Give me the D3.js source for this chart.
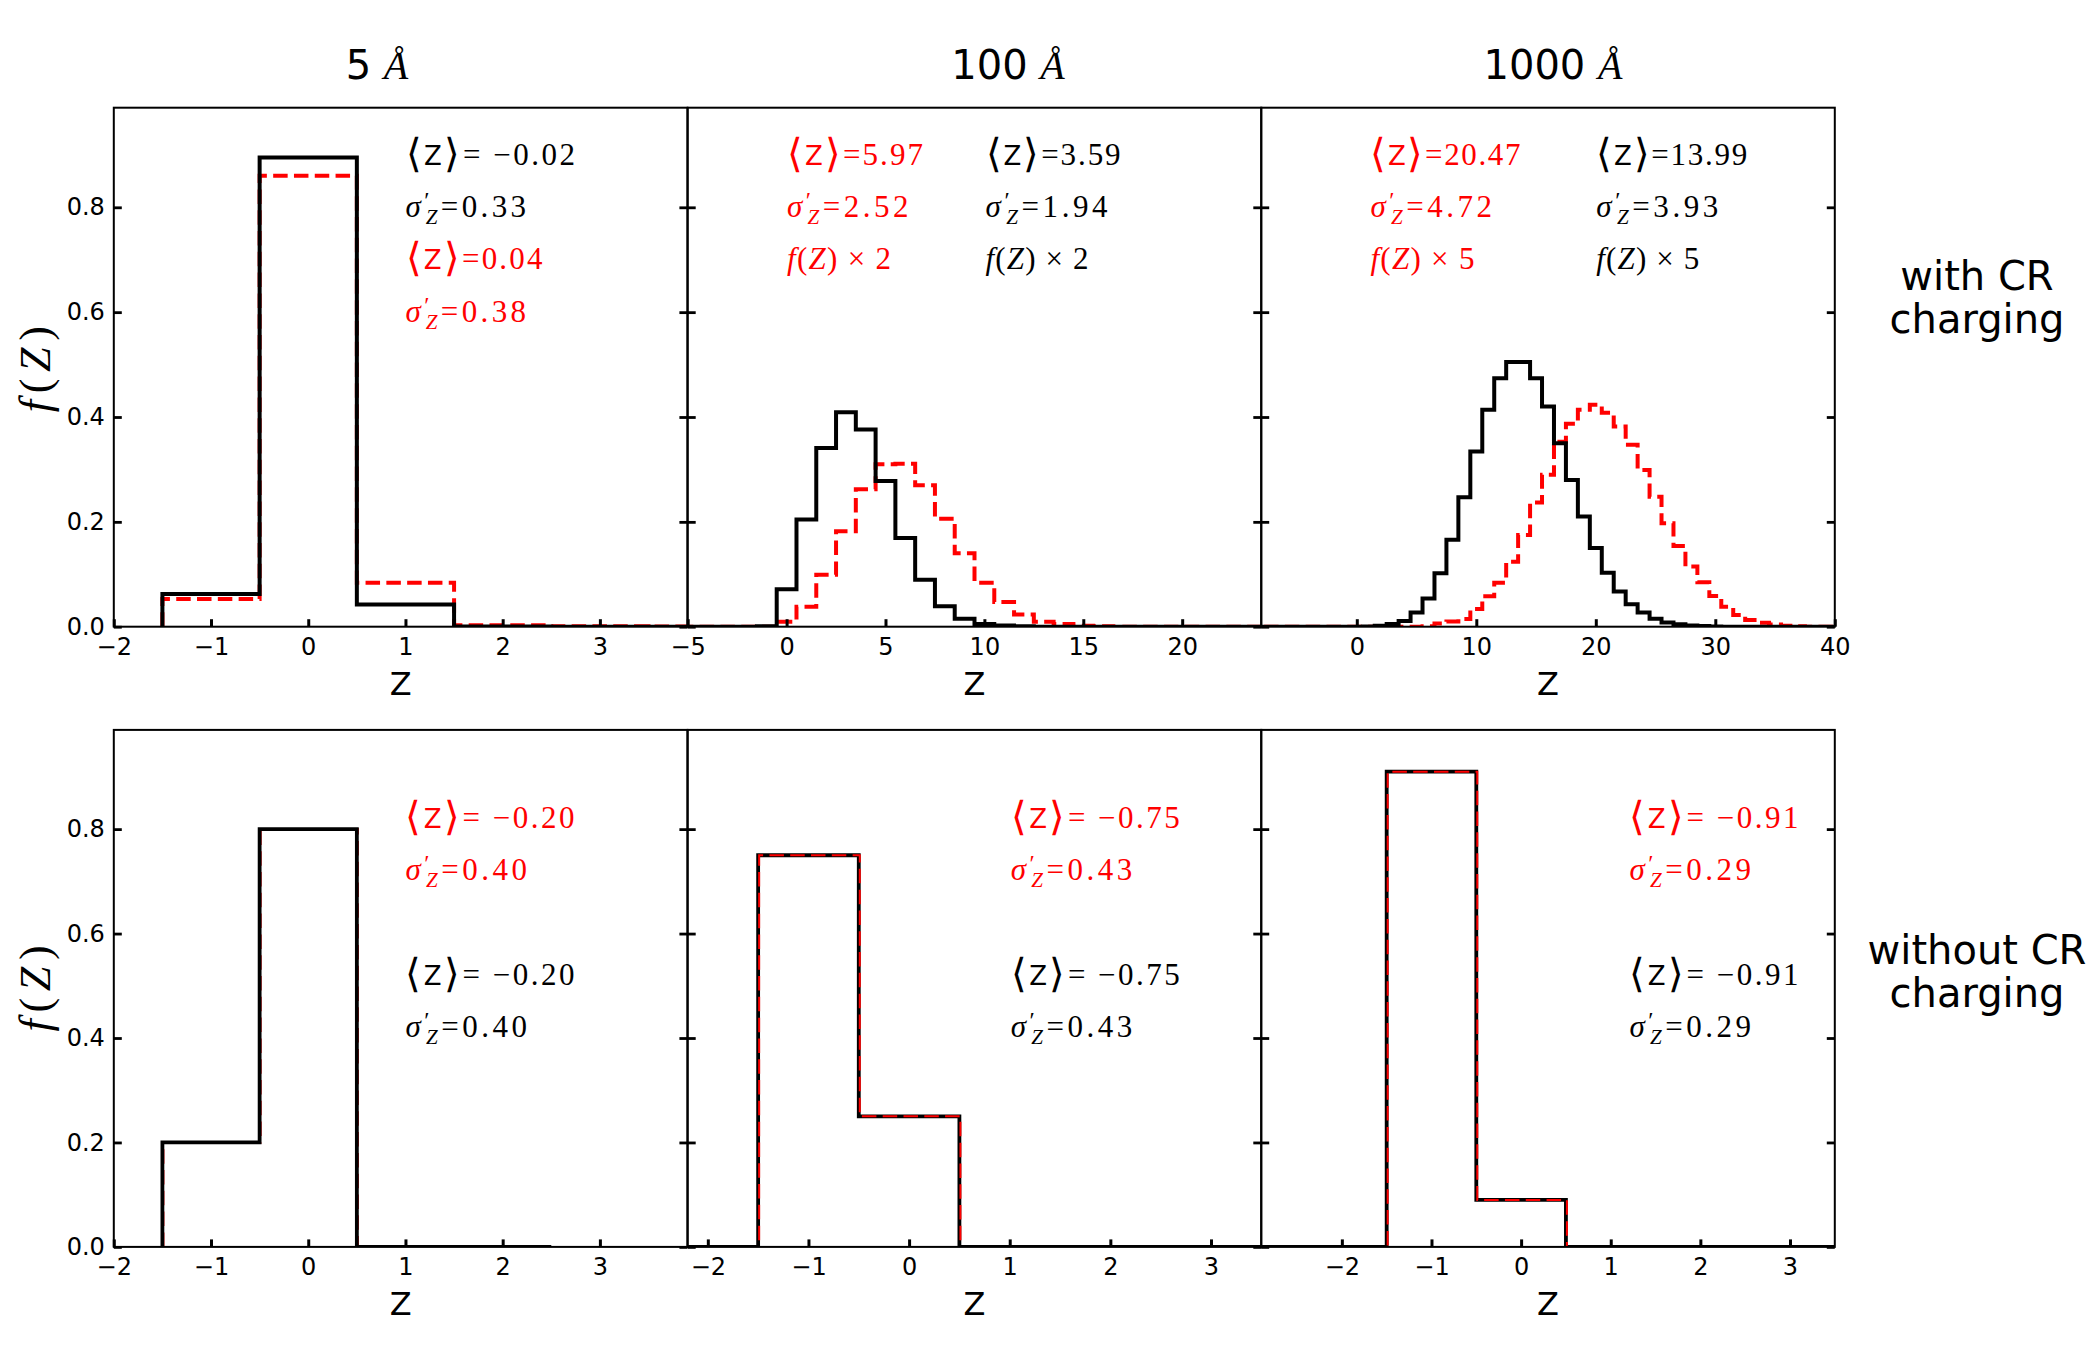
<!DOCTYPE html>
<html>
<head>
<meta charset="utf-8">
<script src="https://cdn.jsdelivr.net/npm/d3@7"></script>
<style>
  body { margin: 0; background: #fff; }
  text { fill: #000; }
</style>
</head>
<body>
<svg id="fig" width="2100" height="1350"></svg>
<script>
// ---- data: f(Z) per integer charge bin ----
// 5 A, with CR charging
var zTop5     = [-1, 0, 1, 2, 3, 4];
var blackTop5 = [0.0625, 0.895, 0.0425, 0.0005, 0, 0];
var redTop5   = [0.053, 0.86, 0.084, 0.003, 0.001, 0.0005];

// 100 A, with CR charging (plotted as f(Z) x 2)
var zTop100 = [-6, -5, -4, -3, -2, -1, 0, 1, 2, 3, 4, 5, 6, 7, 8, 9, 10, 11, 12, 13, 14, 15, 16, 17, 18, 19, 20, 21, 22, 23, 24, 25];
var blackTop100 = [0, 0, 0, 0, 0, 0.001, 0.0715, 0.2045, 0.341, 0.409, 0.376, 0.278, 0.169, 0.0895, 0.039, 0.015, 0.005, 0.0025, 0.001, 0, 0, 0, 0, 0, 0, 0, 0, 0, 0, 0, 0, 0];
var redTop100   = [0, 0, 0, 0, 0, 0, 0.0096, 0.038, 0.099, 0.182, 0.262, 0.31, 0.311, 0.27, 0.206, 0.14, 0.084, 0.047, 0.0235, 0.0096, 0.005, 0.002, 0.001, 0, 0, 0, 0, 0, 0, 0, 0, 0];

// 1000 A, with CR charging (plotted as f(Z) x 5)
var zTop1000 = [-9, -8, -7, -6, -5, -4, -3, -2, -1, 0, 1, 2, 3, 4, 5, 6, 7, 8, 9, 10, 11, 12, 13, 14, 15, 16, 17, 18, 19, 20,
                21, 22, 23, 24, 25, 26, 27, 28, 29, 30, 31, 32, 33, 34, 35, 36, 37, 38, 39, 40];
var blackTop1000 = [0, 0, 0, 0, 0, 0, 0, 0, 0, 0, 0.0005, 0.002, 0.005, 0.011, 0.027, 0.054, 0.102, 0.166, 0.247, 0.334,
                    0.414, 0.474, 0.505, 0.505, 0.474, 0.42, 0.35, 0.28, 0.21, 0.15, 0.103, 0.067, 0.043, 0.027, 0.015,
                    0.008, 0.0045, 0.0025, 0.0013, 0.0006, 0, 0, 0, 0, 0, 0, 0, 0, 0, 0];
var redTop1000 = [0, 0, 0, 0, 0, 0, 0, 0, 0, 0, 0, 0, 0, 0, 0, 0.001, 0.006, 0.01, 0.0147, 0.034, 0.058, 0.084, 0.124,
                  0.175, 0.237, 0.29, 0.353, 0.387, 0.414, 0.4235, 0.408, 0.382, 0.347, 0.299, 0.248, 0.1975, 0.154,
                  0.1146, 0.085, 0.0587, 0.038, 0.0225, 0.013, 0.0075, 0.004, 0.002, 0.001, 0, 0, 0];

// without CR charging
var zBot5Black = [-1, 0, 1, 2];
var blackBot5  = [0.2, 0.8, 0, 0];
var zBot5Red   = [-1, 0, 1, 2, 3, 4];
var redBot5    = [0.2, 0.8, 0, 0, 0, 0];

var zBot100     = [-3, -2, -1, 0, 1, 2, 3, 4];
var blackBot100 = [0, 0, 0.75, 0.25, 0, 0, 0, 0];
var redBot100   = [0, 0, 0.75, 0.25, 0, 0, 0, 0];

var zBot1000     = [-4, -3, -2, -1, 0, 1, 2, 3, 4];
var blackBot1000 = [0, 0, 0, 0.91, 0.09, 0, 0, 0, 0];
var redBot1000   = [0, 0, 0, 0.91, 0.09, 0, 0, 0, 0];

// tick labels and annotations
var yTicks = [0, 0.2, 0.4, 0.6, 0.8];
var xTicksSmall = [-2, -1, 0, 1, 2, 3];
var xTicks100 = [-5, 0, 5, 10, 15, 20];
var xTicks1000 = [0, 10, 20, 30, 40];
var sizeTitles = ["5", "100", "1000"];
var meanBlackCR  = ["= \u22120.02", "=3.59", "=13.99"];
var sigmaBlackCR = ["=0.33", "=1.94", "=3.93"];
var meanRedCR    = ["=0.04", "=5.97", "=20.47"];
var sigmaRedCR   = ["=0.38", "=2.52", "=4.72"];
var scaleCR      = ["", "2", "5"];
var meanNoCR     = ["= \u22120.20", "= \u22120.75", "= \u22120.91"];
var sigmaNoCR    = ["=0.40", "=0.43", "=0.29"];

// ---- layout ----
var svg = d3.select("#fig");
var colX = [113.8, 687.7, 1261.2], colW = 573.6;
var rowY = [107.7, 729.9], rowH = [519, 517];
var serif = "Liberation Serif, Times New Roman, serif";
var sans = "DejaVu Sans, sans-serif";

// order: which series sits on top
var panels = [
  {row: 0, col: 0, xd: [-2, 3.9], ticks: xTicksSmall, redOnTop: false,
   black: {z: zTop5, f: blackTop5}, red: {z: zTop5, f: redTop5}},
  {row: 0, col: 1, xd: [-5, 24], ticks: xTicks100, redOnTop: false,
   black: {z: zTop100, f: blackTop100}, red: {z: zTop100, f: redTop100}},
  {row: 0, col: 2, xd: [-8, 40], ticks: xTicks1000, redOnTop: false,
   black: {z: zTop1000, f: blackTop1000}, red: {z: zTop1000, f: redTop1000}},
  {row: 1, col: 0, xd: [-2, 3.9], ticks: xTicksSmall, redOnTop: false,
   black: {z: zBot5Black, f: blackBot5}, red: {z: zBot5Red, f: redBot5}},
  {row: 1, col: 1, xd: [-2.2, 3.5], ticks: xTicksSmall, redOnTop: true,
   black: {z: zBot100, f: blackBot100}, red: {z: zBot100, f: redBot100}},
  {row: 1, col: 2, xd: [-2.9, 3.5], ticks: xTicksSmall, redOnTop: true,
   black: {z: zBot1000, f: blackBot1000}, red: {z: zBot1000, f: redBot1000}}
];

var stepLine = d3.line().curve(d3.curveStepAfter);

panels.forEach(function(p, i) {
  var x0 = colX[p.col], y0 = rowY[p.row], h = rowH[p.row];
  var x = d3.scaleLinear().domain(p.xd).range([0, colW]);
  var y = d3.scaleLinear().domain([0, 0.99]).range([h, 0]);
  var g = svg.append("g").attr("transform", "translate(" + x0 + "," + y0 + ")");

  g.append("clipPath").attr("id", "clip" + i)
   .append("rect").attr("width", colW).attr("height", h);

  function pts(s) {
    var a = [[x(s.z[0] - 0.5), y(0)]];
    s.z.forEach(function(z, k) { a.push([x(z - 0.5), y(s.f[k])]); });
    a.push([x(s.z[s.z.length - 1] + 0.5), y(0)]);
    return a;
  }
  var top = p.row === 0;
  var hist = g.append("g").attr("clip-path", "url(#clip" + i + ")");
  function drawBlack() {
    hist.append("path").attr("d", stepLine(pts(p.black)))
        .attr("fill", "none").attr("stroke", "#000")
        .attr("stroke-width", top ? 4 : 3.8).attr("stroke-linejoin", "miter");
  }
  function drawRed() {
    hist.append("path").attr("d", stepLine(pts(p.red)))
        .attr("fill", "none").attr("stroke", "#ff0000")
        .attr("transform", top ? null : "translate(1,0)")
        .attr("stroke-width", top ? 4 : 2).attr("stroke-dasharray", "14.5,6.3");
  }
  if (p.redOnTop) { drawBlack(); drawRed(); } else { drawRed(); drawBlack(); }

  // bottom axis with inward ticks
  var xa = g.append("g").attr("transform", "translate(0," + h + ")")
    .call(d3.axisBottom(x).tickValues(p.ticks).tickSize(-7.5).tickPadding(11)
            .tickFormat(d3.format("d")));
  xa.select(".domain").remove();
  xa.selectAll("line").attr("stroke-width", 3);
  xa.selectAll("text").attr("font-family", sans).attr("font-size", 24).attr("fill", "#000");

  // left / right ticks
  var yl = g.append("g").call(d3.axisLeft(y).tickValues(yTicks).tickSize(-8).tickPadding(9)
            .tickFormat(p.col === 0 ? d3.format(".1f") : ""));
  yl.select(".domain").remove();
  yl.selectAll("line").attr("stroke-width", 2.8);
  yl.selectAll("text").attr("font-family", sans).attr("font-size", 24).attr("fill", "#000");
  var yr = g.append("g").attr("transform", "translate(" + colW + ",0)")
    .call(d3.axisRight(y).tickValues(yTicks).tickSize(-8).tickFormat(""));
  yr.select(".domain").remove();
  yr.selectAll("line").attr("stroke-width", 2.8);

  g.append("rect").attr("width", colW).attr("height", h)
   .attr("fill", "none").attr("stroke", "#000").attr("stroke-width", 2);

  g.append("text").attr("x", colW / 2).attr("y", h + 68.5)
   .attr("text-anchor", "middle").attr("font-family", sans).attr("font-size", 32).text("Z");
});

// y axis labels f(Z)
[rowY[0] + rowH[0] / 2 + 2, rowY[1] + rowH[1] / 2].forEach(function(cy) {
  var t = svg.append("text").attr("transform", "translate(35," + cy + ") rotate(-90)")
    .attr("text-anchor", "middle").attr("dominant-baseline", "central")
    .attr("font-family", serif).attr("font-size", 44)
    .attr("textLength", 86).attr("lengthAdjust", "spacing");
  t.append("tspan").attr("font-style", "italic").text("f");
  t.append("tspan").text("(");
  t.append("tspan").attr("font-style", "italic").text("Z");
  t.append("tspan").text(")");
});

// column titles
var titleX = [377, 1008, 1553];
sizeTitles.forEach(function(s, i) {
  var t = svg.append("text").attr("x", titleX[i]).attr("y", 79).attr("text-anchor", "middle")
    .attr("font-family", sans).attr("font-size", 40);
  t.append("tspan").text(s + " ");
  t.append("tspan").attr("font-family", serif).attr("font-style", "italic").text("\u00c5");
});

// row labels
[["with CR", "charging", 290], ["without CR", "charging", 964]].forEach(function(r) {
  var t = svg.append("text").attr("text-anchor", "middle")
    .attr("font-family", sans).attr("font-size", 40);
  t.append("tspan").attr("x", 1977).attr("y", r[2]).text(r[0]);
  t.append("tspan").attr("x", 1977).attr("y", r[2] + 43).text(r[1]);
});

// statistic annotations
function note(kind, v, px, py, color, w) {
  var t = svg.append("text").attr("x", px).attr("y", py)
    .attr("font-family", serif).attr("font-size", 31).style("fill", color)
    .attr("textLength", w).attr("lengthAdjust", "spacing");
  if (kind === "mean") {
    t.append("tspan").attr("font-family", sans).attr("font-size", 40).attr("font-weight", 200).attr("dy", 2).text("\u27e8");
    t.append("tspan").attr("font-family", sans).attr("font-size", 26).attr("dy", -2).text("Z");
    t.append("tspan").attr("font-family", sans).attr("font-size", 40).attr("font-weight", 200).attr("dy", 2).text("\u27e9");
    t.append("tspan").attr("dy", -2).text(v);
  } else if (kind === "sigma") {
    t.append("tspan").attr("font-style", "italic").text("\u03c3");
    t.append("tspan").attr("font-size", 24).attr("dy", -9).text("\u2032");
    t.append("tspan").attr("font-style", "italic").attr("font-size", 21).attr("dx", -7).attr("dy", 16).text("Z");
    t.append("tspan").attr("dy", -7).text(v);
  } else {
    t.append("tspan").attr("font-style", "italic").text("f");
    t.append("tspan").text("(");
    t.append("tspan").attr("font-style", "italic").text("Z");
    t.append("tspan").text(") \u00d7 " + v);
  }
}
var rowsTop = [165, 216.7, 269.3, 321.7];
// 5 A with CR
note("mean", meanBlackCR[0], 405.5, rowsTop[0], "#000", 169.5);
note("sigma", sigmaBlackCR[0], 405.5, rowsTop[1], "#000", 120.5);
note("mean", meanRedCR[0], 405.5, rowsTop[2], "#ff0000", 137);
note("sigma", sigmaRedCR[0], 405.5, rowsTop[3], "#ff0000", 120.5);
// 100 A and 1000 A with CR
var redX = [null, 787, 1370.4], blackX = [null, 985.6, 1596.3];
var wMeanR = [null, 136, 150], wMeanB = [null, 135, 151];
[1, 2].forEach(function(c) {
  note("mean", meanRedCR[c], redX[c], rowsTop[0], "#ff0000", wMeanR[c]);
  note("sigma", sigmaRedCR[c], redX[c], rowsTop[1], "#ff0000", 121.5);
  note("scale", scaleCR[c], redX[c], rowsTop[2], "#ff0000", 104);
  note("mean", meanBlackCR[c], blackX[c], rowsTop[0], "#000", wMeanB[c]);
  note("sigma", sigmaBlackCR[c], blackX[c], rowsTop[1], "#000", 122);
  note("scale", scaleCR[c], blackX[c], rowsTop[2], "#000", 103);
});
// without CR
var botX = [405.4, 1010.7, 1629.4];
var rowsBot = [828, 879.8, 985, 1036.8];
[0, 1, 2].forEach(function(c) {
  note("mean", meanNoCR[c], botX[c], rowsBot[0], "#ff0000", 169);
  note("sigma", sigmaNoCR[c], botX[c], rowsBot[1], "#ff0000", 121.5);
  note("mean", meanNoCR[c], botX[c], rowsBot[2], "#000", 169);
  note("sigma", sigmaNoCR[c], botX[c], rowsBot[3], "#000", 121.5);
});
</script>
</body>
</html>
